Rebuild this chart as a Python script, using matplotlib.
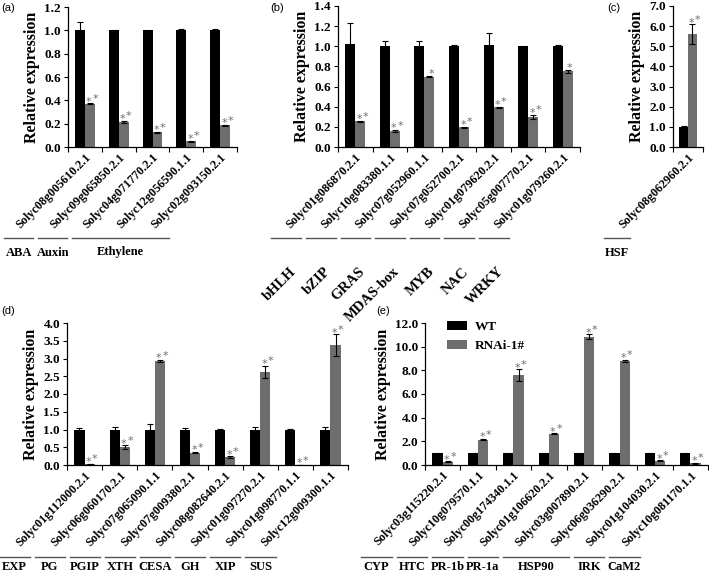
import matplotlib
matplotlib.use('Agg')
import matplotlib.pyplot as plt
import matplotlib.transforms as mtransforms
import numpy as np

plt.rcParams['font.family'] = 'Liberation Serif'
plt.rcParams['font.weight'] = 'bold'

BLACK = '#000000'
GRAY = '#6e6e6e'

# panel (a) - hormone related genes
genes_a = ['Solyc08g005610.2.1', 'Solyc09g065850.2.1', 'Solyc04g071770.2.1',
           'Solyc12g056590.1.1', 'Solyc02g093150.2.1']
wt_a = [1.0, 1.0, 1.0, 1.0, 1.0]
wt_err_a = [0.07, 0.005, 0.005, 0.008, 0.015]
ri_a = [0.37, 0.215, 0.125, 0.05, 0.185]
ri_err_a = [0.005, 0.01, 0.005, 0.005, 0.005]
sig_a = ['**', '**', '**', '**', '**']
groups_a = [('ABA', 0, 0), ('Auxin', 1, 1), ('Ethylene', 2, 4)]

# panel (b) - transcription factors
genes_b = ['Solyc01g086870.2.1', 'Solyc10g083380.1.1', 'Solyc07g052960.1.1',
           'Solyc07g052700.2.1', 'Solyc01g079620.2.1', 'Solyc05g007770.2.1',
           'Solyc01g079260.2.1']
wt_b = [1.02, 1.0, 1.0, 1.0, 1.01, 1.0, 1.0]
wt_err_b = [0.21, 0.055, 0.05, 0.01, 0.125, 0.005, 0.015]
ri_b = [0.255, 0.16, 0.7, 0.195, 0.395, 0.30, 0.75]
ri_err_b = [0.005, 0.01, 0.005, 0.008, 0.005, 0.02, 0.015]
sig_b = ['**', '**', '*', '**', '**', '**', '*']
groups_b = [('bHLH', 0, 0), ('bZIP', 1, 1), ('GRAS', 2, 2), ('MDAS-box', 3, 3),
            ('MYB', 4, 4), ('NAC', 5, 5), ('WRKY', 6, 6)]

# panel (c)
genes_c = ['Solyc08g062960.2.1']
wt_c = [1.0]
wt_err_c = [0.02]
ri_c = [5.6]
ri_err_c = [0.5]
sig_c = ['**']
groups_c = [('HSF', 0, 0)]

# panel (d) - cell wall genes
genes_d = ['Solyc01g112000.2.1', 'Solyc06g060170.2.1', 'Solyc07g065090.1.1',
           'Solyc07g009380.2.1', 'Solyc08g082640.2.1', 'Solyc01g097270.2.1',
           'Solyc01g098770.1.1', 'Solyc12g009300.1.1']
wt_d = [1.0, 1.0, 1.0, 1.0, 1.0, 1.0, 1.0, 1.0]
wt_err_d = [0.03, 0.07, 0.15, 0.03, 0.01, 0.08, 0.01, 0.06]
ri_d = [0.03, 0.5, 2.93, 0.35, 0.23, 2.62, 0.0, 3.38]
ri_err_d = [0.01, 0.05, 0.03, 0.02, 0.02, 0.18, 0.0, 0.3]
sig_d = ['**'] * 8
groups_d = [('EXP', 0, 0), ('PG', 1, 1), ('PGIP', 2, 2), ('XTH', 3, 3),
            ('CESA', 4, 4), ('GH', 5, 5), ('XIP', 6, 6), ('SUS', 7, 7)]

# panel (e) - stress related genes
genes_e = ['Solyc03g115220.2.1', 'Solyc10g079570.1.1', 'Solyc00g174340.1.1',
           'Solyc01g106620.2.1', 'Solyc03g007890.2.1', 'Solyc06g036290.2.1',
           'Solyc01g104030.2.1', 'Solyc10g081170.1.1']
wt_e = [1.0, 1.0, 1.0, 1.0, 1.0, 1.0, 1.0, 1.0]
wt_err_e = [0.03, 0.03, 0.03, 0.03, 0.03, 0.03, 0.03, 0.03]
ri_e = [0.28, 2.15, 7.6, 2.65, 10.85, 8.8, 0.38, 0.15]
ri_err_e = [0.03, 0.05, 0.5, 0.05, 0.2, 0.1, 0.03, 0.05]
sig_e = ['**'] * 8
groups_e = [('CYP', 0, 0), ('HTC', 1, 1), ('PR-1b', 2, 2), ('PR-1a', 3, 3),
            ('HSP90', 4, 5), ('IRK', 6, 6), ('CaM2', 7, 7)]

fig = plt.figure(figsize=(7.09, 5.74), dpi=100)


def px_axes(left, top, right, bottom):
    # pixel box -> figure fraction
    W, H = 709.0, 574.0
    return fig.add_axes([left / W, 1 - bottom / H, (right - left) / W, (bottom - top) / H])


def panel(ax, genes, wt, wt_err, ri, ri_err, sig, ymax, ystep, groups,
          line_dy=0.91, rot_groups=False, shift=0.66, lab_dy=0.085):
    n = len(genes)
    x = np.arange(n)
    w = 0.29
    ekw = dict(elinewidth=0.8, capsize=2.2, capthick=0.8, ecolor='black')
    ax.bar(x - w / 2, wt, w, yerr=wt_err, color=BLACK, error_kw=ekw, label='WT')
    ax.bar(x + w / 2, ri, w, yerr=ri_err, color=GRAY, error_kw=ekw, label='RNAi-1#')
    # significance stars: small, spaced, the second one a bit higher
    for i in range(n):
        k = len(sig[i])
        for j in range(k):
            dx = 1.5 + (j - (k - 1) / 2.0) * 4.5
            dy = -2.5 + 2.0 * j
            ax.annotate('*', (x[i] + w / 2, ri[i] + ri_err[i]), xytext=(dx, dy),
                        textcoords='offset points', ha='center', va='bottom',
                        color=GRAY, fontsize=8, fontweight='normal',
                        family='DejaVu Sans')
    ax.set_xlim(-0.5, n - 0.5)
    ax.set_ylim(0, ymax)
    ticks = np.arange(0, ymax + ystep / 2, ystep)
    ax.set_yticks(ticks)
    ax.set_yticklabels(['%.1f' % t for t in ticks], fontsize=9.5, fontweight='bold')
    ax.set_xticks(x)
    ax.set_xticklabels(genes, rotation=45, ha='right', rotation_mode='anchor',
                       fontsize=8.7, fontweight='bold')
    ax.set_xticks(np.arange(-0.5, n), minor=True)
    ax.tick_params(axis='x', which='major', length=0, pad=3)
    ax.tick_params(axis='x', which='minor', length=3.5, width=0.8, direction='out')
    ax.tick_params(axis='y', length=3, width=0.8, direction='out', pad=2)
    for s in ['top', 'right']:
        ax.spines[s].set_visible(False)
    for s in ['left', 'bottom']:
        ax.spines[s].set_linewidth(0.9)
    ax.set_ylabel('Relative expression', fontsize=11.5, fontweight='bold', labelpad=3)

    # group lines under the rotated gene names
    off = mtransforms.ScaledTranslation(-shift, -line_dy, fig.dpi_scale_trans)
    tr = ax.get_xaxis_transform() + off
    for name, i0, i1 in groups:
        x0, x1 = i0 - 0.5 + 0.07, i1 + 0.5 - 0.07
        ax.plot([x0, x1], [0, 0], color='#555555', lw=1.0, transform=tr,
                clip_on=False)
        xc = (x0 + x1) / 2
        if rot_groups:
            t2 = tr + mtransforms.ScaledTranslation(0.03, -0.27, fig.dpi_scale_trans)
            ax.text(xc, 0, name, transform=t2, rotation=45, ha='right', va='top',
                    rotation_mode='anchor', fontsize=10.5, fontweight='bold')
        else:
            t2 = tr + mtransforms.ScaledTranslation(0, -lab_dy, fig.dpi_scale_trans)
            ax.text(xc, 0, name, transform=t2, ha='center', va='top',
                    fontsize=9, fontweight='bold')


ax_a = px_axes(68, 7, 237, 147)
panel(ax_a, genes_a, wt_a, wt_err_a, ri_a, ri_err_a, sig_a, 1.2, 0.2, groups_a)

ax_b = px_axes(338, 6, 580, 147)
panel(ax_b, genes_b, wt_b, wt_err_b, ri_b, ri_err_b, sig_b, 1.4, 0.2, groups_b,
      rot_groups=True, shift=0.69)

ax_c = px_axes(673, 6, 703, 147)
panel(ax_c, genes_c, wt_c, wt_err_c, ri_c, ri_err_c, sig_c, 7.0, 1.0, groups_c,
      shift=0.71)

ax_d = px_axes(67, 323, 348, 465)
panel(ax_d, genes_d, wt_d, wt_err_d, ri_d, ri_err_d, sig_d, 4.0, 0.5, groups_d,
      line_dy=0.92, shift=0.70, lab_dy=0.04)

ax_e = px_axes(425, 323, 708, 465)
panel(ax_e, genes_e, wt_e, wt_err_e, ri_e, ri_err_e, sig_e, 12.0, 2.0, groups_e,
      line_dy=0.92, shift=0.66, lab_dy=0.04)
ax_e.legend(loc='upper left', bbox_to_anchor=(0.035, 1.1), frameon=False,
            prop={'family': 'Liberation Serif', 'weight': 'bold', 'size': 9.5},
            handlelength=1.5, handleheight=0.7, labelspacing=0.55, handletextpad=0.6)

for lab, xp, yp in [('(a)', 1, 3), ('(b)', 270, 3), ('(c)', 607, 3),
                    ('(d)', 1, 306), ('(e)', 376, 306)]:
    fig.text(xp / 709.0, 1 - yp / 574.0, lab, ha='left', va='top',
             fontsize=8, fontweight='normal', family='Liberation Sans')

fig.savefig('out.png', dpi=100)
